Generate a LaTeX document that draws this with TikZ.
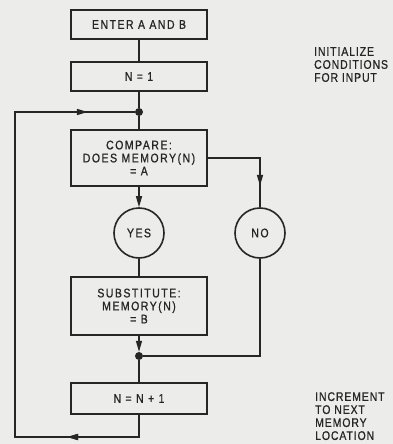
\documentclass[tikz,border=0pt]{standalone}
\usepackage{fontspec}
\setmainfont{Liberation Sans}[FakeStretch=0.84, LetterSpace=12, FakeBold=0.8]
\usetikzlibrary{arrows.meta,decorations.markings}
\definecolor{ink}{HTML}{262626}
\definecolor{paper}{HTML}{ECECEA}
\newcommand\lab{\fontsize{12.5}{13}\selectfont}
\newcommand\notelab{\fontsize{12.5}{13}\selectfont\addfontfeature{LetterSpace=7}}
\tikzset{
  box/.style={draw=ink, line width=1.8pt, minimum width=136pt, inner sep=0pt, align=center, font=\lab, text=ink},
  circ/.style={circle, draw=ink, line width=1.6pt, minimum size=50pt, inner sep=0pt, font=\lab, text=ink},
  junction/.style={circle, fill=ink, minimum size=8pt, inner sep=0pt},
  wire/.style={draw=ink, line width=1.4pt},
  tip/.style={-{Triangle[length=11pt,width=6pt]}},
  midtip/.style={postaction=decorate, decoration={markings, mark=at position #1 with {\arrow{Triangle[length=11pt,width=6pt]}}}},
  note/.style={anchor=north west, align=left, font=\notelab, inner sep=0pt, text=ink}
}
\begin{document}
\begin{tikzpicture}[x=1pt,y=-1pt]
\fill[paper] (0,0) rectangle (393,444);
\useasboundingbox (0,0) rectangle (393,444);
\node[box, minimum height=29pt] (enter) at (139,24.5) {ENTER A AND B};
\node[box, minimum height=29pt] (n1) at (139,76.5) {N = 1};
\node[junction] (j1) at (139,112) {};
\node[box, minimum height=56pt] (cmp) at (139,158) {COMPARE:\\DOES MEMORY(N)\\= A};
\node[circ] (yes) at (139,233) {YES};
\node[circ] (no) at (260,233) {NO};
\node[box, minimum height=58pt] (sub) at (139,306) {SUBSTITUTE:\\MEMORY(N)\\= B};
\node[junction] (j2) at (139,356) {};
\node[box, minimum height=31pt] (inc) at (139,398.5) {N = N + 1};
\node[note] (t1) at (314,47) {INITIALIZE\\CONDITIONS\\FOR INPUT};
\node[note] (t2) at (315,392) {INCREMENT\\TO NEXT\\MEMORY\\LOCATION};
\coordinate (cr) at (260,158);
\coordinate (nr) at (260,356);
\coordinate (lb) at (139,437);
\coordinate (ll) at (15,437);
\coordinate (lt) at (15,112);
\draw[wire] (enter) -- (n1);
\draw[wire] (n1) -- (j1);
\draw[wire] (j1) -- (cmp);
\draw[wire, tip] (cmp) -- (yes);
\draw[wire, midtip=80pt] (cmp.east) -- (cr) -- (no);
\draw[wire] (yes) -- (sub);
\draw[wire, tip] (sub) -- (j2);
\draw[wire] (no) -- (nr) -- (j2);
\draw[wire] (j2) -- (inc);
\draw[wire, midtip=94pt, postaction={decorate, decoration={markings, mark=at position 544pt with {\arrow{Triangle[length=11pt,width=6pt]}}}}] (inc) -- (lb) -- (ll) -- (lt) -- (j1);
\end{tikzpicture}
\end{document}
